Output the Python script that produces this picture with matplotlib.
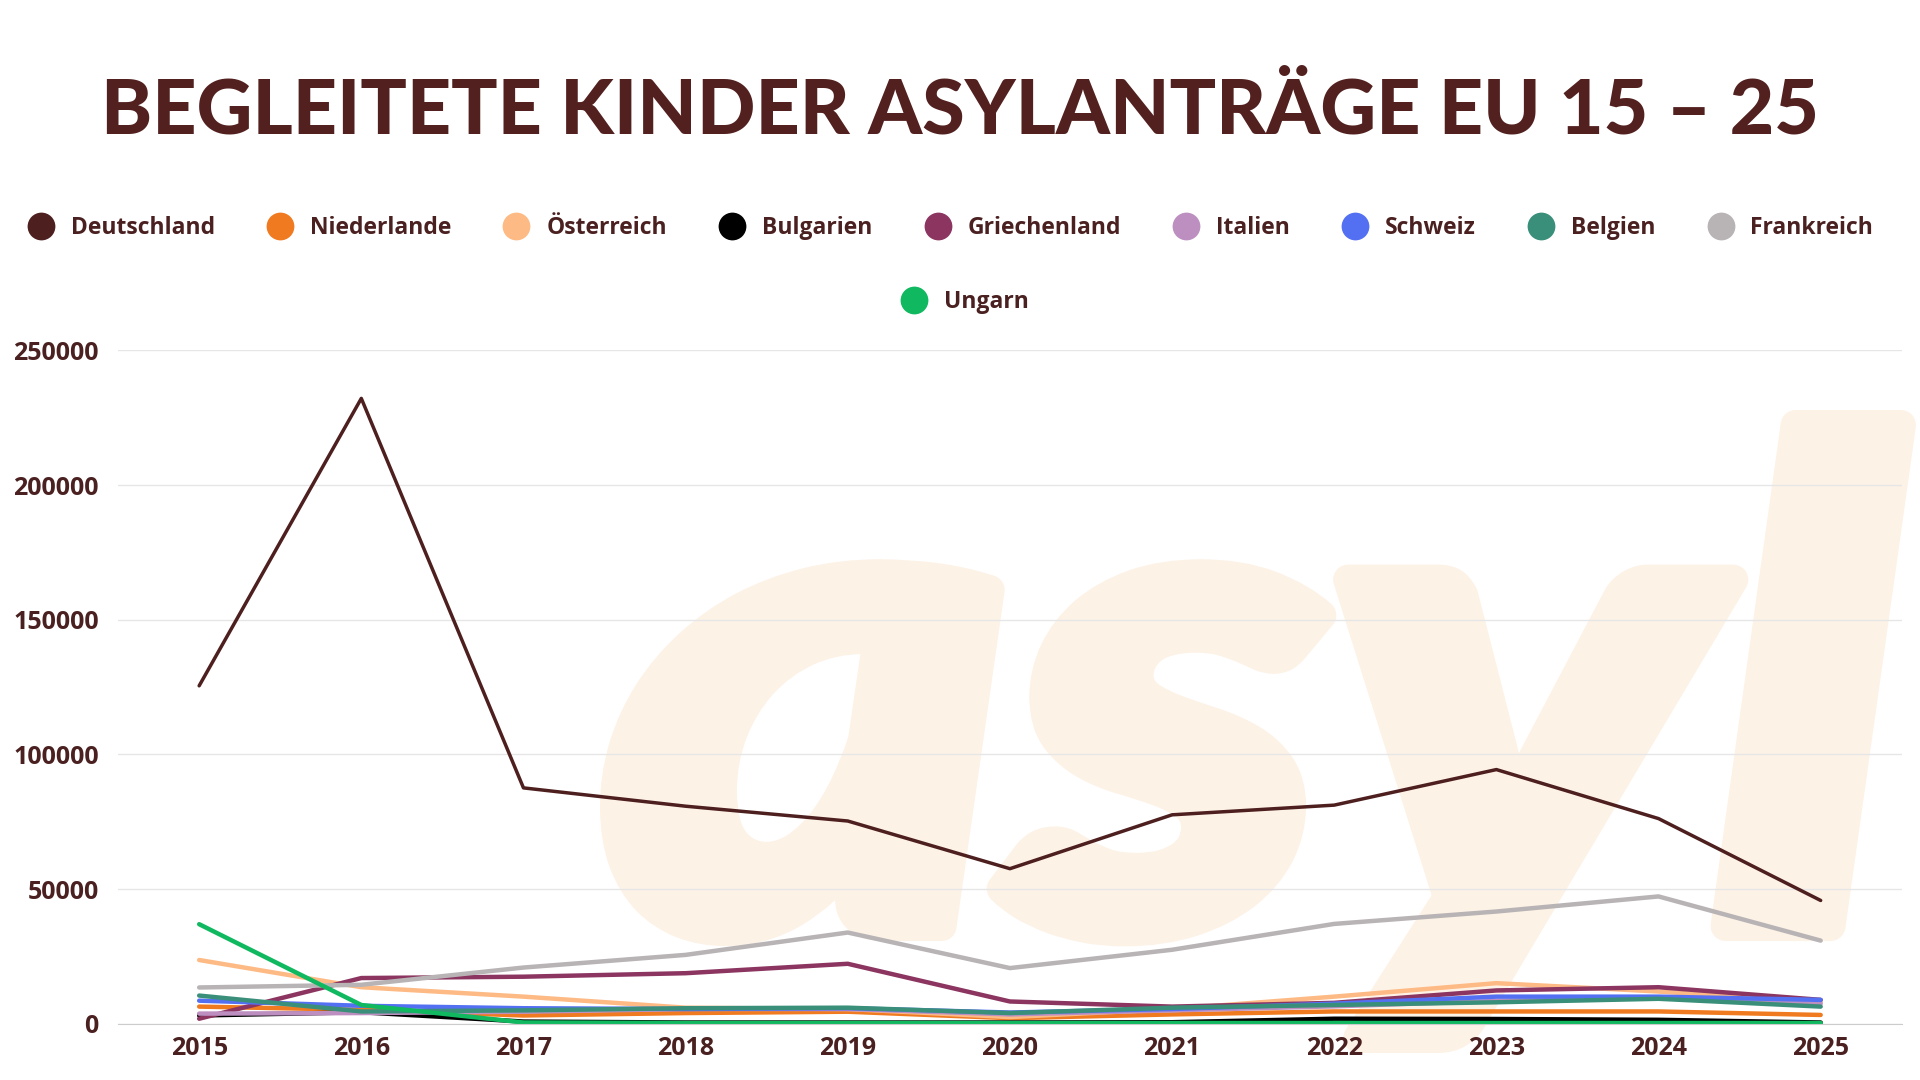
import matplotlib
matplotlib.use("Agg")
import matplotlib.pyplot as plt
from matplotlib.lines import Line2D
from matplotlib.textpath import TextPath
from matplotlib.patches import PathPatch
from matplotlib.font_manager import FontProperties
from matplotlib.transforms import Affine2D

# Daten
jahre = [2015, 2016, 2017, 2018, 2019, 2020, 2021, 2022, 2023, 2024, 2025]

deutschland = [125500, 232200, 87600, 80800, 75300, 57600, 77600, 81200, 94400, 76200, 45800]
niederlande = [6400, 5200, 3100, 4000, 4500, 2100, 3500, 4600, 4600, 4600, 3300]
oesterreich = [23700, 13600, 10100, 6000, 5500, 2500, 5500, 10100, 15100, 12000, 8000]
bulgarien = [3100, 4300, 850, 500, 500, 500, 600, 1900, 1800, 1500, 500]
griechenland = [1900, 17000, 17500, 18800, 22300, 8300, 6400, 7800, 12400, 13600, 8900]
italien = [3800, 4000, 4500, 5500, 5500, 3500, 5000, 6500, 8500, 9500, 7500]
schweiz = [8600, 6700, 5800, 5500, 5800, 4200, 5500, 7500, 10100, 10100, 8900]
belgien = [10500, 4600, 5000, 5800, 6000, 4000, 6000, 7000, 8000, 9300, 6400]
frankreich = [13500, 14500, 20900, 25600, 33900, 20700, 27500, 37100, 41700, 47300, 30900]
ungarn = [37000, 7000, 500, 300, 300, 300, 300, 300, 300, 300, 300]

laender = ["Deutschland", "Niederlande", "Österreich", "Bulgarien", "Griechenland",
           "Italien", "Schweiz", "Belgien", "Frankreich", "Ungarn"]
werte = [deutschland, niederlande, oesterreich, bulgarien, griechenland,
         italien, schweiz, belgien, frankreich, ungarn]
farben = ["#4E1F1F", "#F07A1F", "#FDBA84", "#000000", "#8B3560",
          "#BC8FC0", "#5470F2", "#3A8F7A", "#B8B3B5", "#10B860"]

textfarbe = "#4A2020"

W, H = 1920, 1080
fig = plt.figure(figsize=(W / 100, H / 100), dpi=100)
fig.patch.set_facecolor("white")

# Wasserzeichen "asyl" im Hintergrund (als Textpfad, auf die Fläche gestreckt)
wz_farbe = "#FDF2E6"
strich = 30  # px
tp = TextPath((0, 0), "asyl", size=600,
              prop=FontProperties(family="Lato", style="italic", weight="black"))
ext = tp.get_extents()
x0, x1, y0, y1 = 600 + strich / 2, 1916 - strich / 2, 27 + strich / 2, 670 - strich / 2
trans = (Affine2D().translate(-ext.x0, -ext.y0)
         .scale((x1 - x0) / ext.width, (y1 - y0) / ext.height)
         .translate(x0, y0).scale(1 / W, 1 / H) + fig.transFigure)
wz = PathPatch(tp, facecolor=wz_farbe, edgecolor=wz_farbe, lw=strich * 0.72,
               joinstyle="round", transform=trans, zorder=-1)
fig.add_artist(wz)

ax = fig.add_axes([0.0615, 0.052, 0.929, 0.6235])
ax.patch.set_alpha(0)

for name, w, c in zip(laender, werte, farben):
    lw = 2.5 if name == "Deutschland" else 3.2
    ax.plot(jahre, w, color=c, lw=lw, solid_capstyle="round", label=name)

ax.set_xlim(2014.5, 2025.5)
ax.set_ylim(0, 250000)
ax.set_xticks(jahre)
ax.set_yticks([0, 50000, 100000, 150000, 200000, 250000])
ax.grid(axis="y", color="#E6E6E6", lw=1)
ax.set_axisbelow(True)
for s in ["top", "right", "left"]:
    ax.spines[s].set_visible(False)
ax.spines["bottom"].set_color("#CCCCCC")
ax.tick_params(length=0, labelsize=18, labelcolor=textfarbe, pad=9)
ax.tick_params(axis="y", pad=14)
for lab in ax.get_xticklabels() + ax.get_yticklabels():
    lab.set_fontweight("bold")
    lab.set_family("Open Sans")

# Titel
fig.text(0.5, 0.897, "BEGLEITETE KINDER ASYLANTRÄGE EU 15 – 25", ha="center", va="center",
         fontsize=55.5, family="Lato", weight="black", color="#52201F")

# Legende: neun Einträge oben, Ungarn zentriert darunter
handles = [Line2D([], [], ls="none", marker="o", markersize=20, color=c,
                  markeredgewidth=0) for c in farben]
leg1 = fig.legend(handles[:9], laender[:9], loc="center", bbox_to_anchor=(0.4925, 0.789),
                  ncol=9, frameon=False, handletextpad=0.3, columnspacing=1.85,
                  prop={"family": "Open Sans", "weight": "bold", "size": 16.5})
leg2 = fig.legend(handles[9:], laender[9:], loc="center", bbox_to_anchor=(0.5, 0.72),
                  ncol=1, frameon=False, handletextpad=0.3,
                  prop={"family": "Open Sans", "weight": "bold", "size": 16.5})
for leg in (leg1, leg2):
    for t in leg.get_texts():
        t.set_color(textfarbe)

fig.savefig("out.png", dpi=100)
